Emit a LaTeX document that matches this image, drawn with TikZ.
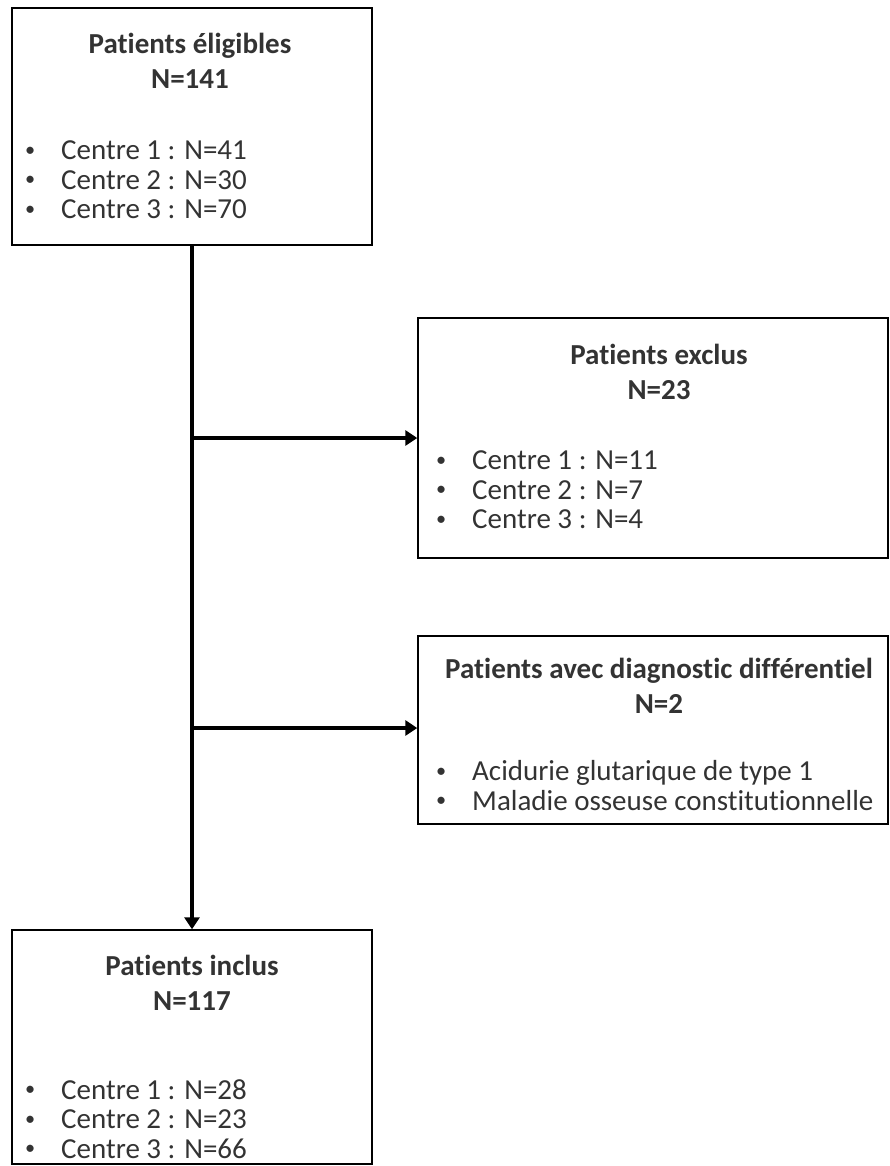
\documentclass[tikz,border=0pt]{standalone}
\usepackage{fontspec}
\setmainfont{Carlito}[Ligatures=NoCommon]
\usepackage{graphicx}
\usepackage{tikz}
\usetikzlibrary{arrows.meta,positioning}

\newcommand{\itm}[1]{\makebox[36pt][l]{\raisebox{0.12em}{\scalebox{0.7}{\textbullet}}}#1}

\begin{document}
\begin{tikzpicture}[x=1pt, y=-1pt, font=\fontsize{29}{29.5}\selectfont, text=black!80,
    box/.style = {draw, line width=1.5pt, inner sep=0pt},
    title/.style = {align=center, inner sep=0pt, font=\fontsize{29}{35}\selectfont\bfseries},
    items/.style = {align=left, anchor=west, inner sep=0pt},
    flow/.style = {line width=4pt, -{Triangle[length=12pt, width=15pt]}}]
    \useasboundingbox (0,0) rectangle (890,1166);
    % boxes
    \node[box, minimum width=360pt, minimum height=237pt] (elig) at (192,126.5) {};
    \node[box, minimum width=470pt, minimum height=240pt] (excl) at (653,438) {};
    \node[box, minimum width=470pt, minimum height=188pt] (diag) at (653,730) {};
    \node[box, minimum width=360pt, minimum height=234pt] (incl) at (192,1047) {};
    % texts
    \node[title] (t1) at (190,60.5) {Patients éligibles\\N=141};
    \node[items] (l1) at (25,180) {\itm{Centre 1 : N=41}\\\itm{Centre 2 : N=30}\\\itm{Centre 3 : N=70}};
    \node[title] (t2) at (659,372) {Patients exclus\\N=23};
    \node[items] (l2) at (436,490) {\itm{Centre 1 : N=11}\\\itm{Centre 2 : N=7}\\\itm{Centre 3 : N=4}};
    \node[title] (t3) at (659,685.5) {Patients avec diagnostic différentiel\\N=2};
    \node[items] (l3) at (436,785.5) {\itm{Acidurie glutarique de type 1}\\\itm{Maladie osseuse constitutionnelle}};
    \node[title] (t4) at (192,982.5) {Patients inclus\\N=117};
    \node[items] (l4) at (25,1119) {\itm{Centre 1 : N=28}\\\itm{Centre 2 : N=23}\\\itm{Centre 3 : N=66}};
    % connectors
    \coordinate (j1) at (192,438);
    \coordinate (j2) at (192,728);
    \draw[flow] (elig.south -| j1) -- (incl.north -| j1);
    \draw[flow] (j1) -- (j1 -| excl.west);
    \draw[flow] (j2) -- (j2 -| diag.west);
\end{tikzpicture}
\end{document}
